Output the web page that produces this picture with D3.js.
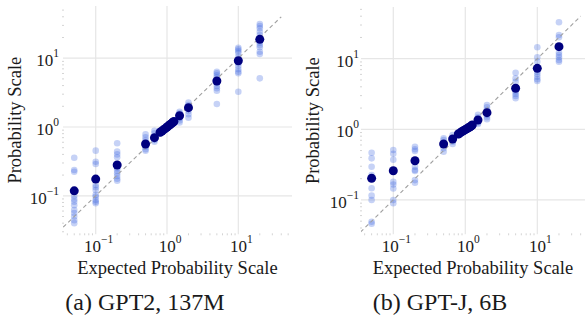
<!DOCTYPE html>
<html><head><meta charset="utf-8">
<script src="https://cdn.jsdelivr.net/npm/d3@7"></script>
<style>body{margin:0;background:#fff}svg{display:block}text{font-family:"Liberation Serif","Times New Roman",serif;fill:#1a1a1a}</style>
</head><body><svg id="c" width="585" height="321"></svg>
<script>
const expected = [0.05,0.1,0.2,0.5,0.667,0.8,0.85,0.9,0.95,1,1.05,1.1,1.15,1.2,1.25,1.5,2,5,10,20];
const tickValues = [0.1,1,10];
const tickExponents = ["−1","0","1"];
const diagonal = [0.035,40];
const captions = ["(a) GPT2, 137M","(b) GPT-J, 6B"];
const xTitle = "Expected Probability Scale";
const yTitle = "Probability Scale";

const gpt2Means = [0.118,0.175,0.28,0.566,0.70,0.84,0.875,0.915,0.955,1.0,1.04,1.08,1.12,1.16,1.2,1.46,1.91,4.66,9.2,18.8];
const gpt2Samples = [
 [0.358,0.237,0.224,0.099,0.089,0.082,0.073,0.062,0.056,0.05,0.044,0.04],
 [0.453,0.313,0.29,0.144,0.133,0.121,0.103,0.097,0.087,0.082,0.078],
 [0.58,0.438,0.40,0.363,0.251,0.232,0.212,0.194,0.177,0.166],
 [0.78,0.71,0.647,0.517,0.474,0.453],
 [0.88,0.81,0.647,0.611],
 [0.88,0.86,0.82,0.8],
 [0.91,0.89,0.86,0.84],
 [0.95,0.93,0.9,0.88],
 [0.99,0.97,0.94,0.92],
 [1.04,1.02,0.98,0.96],
 [1.08,1.06,1.02,1.0],
 [1.12,1.1,1.06,1.04],
 [1.16,1.14,1.1,1.08],
 [1.21,1.18,1.14,1.12],
 [1.25,1.22,1.18,1.15],
 [1.67,1.58,1.34,1.24,1.16],
 [2.26,2.09,1.71,1.53,1.36],
 [6.37,6.03,5.64,5.28,4.32,3.95,3.65,3.37,2.16],
 [14.2,13.5,12.7,12.0,10.5,8.43,7.7,6.9,6.37,6.03,3.26],
 [31.4,29.4,27.2,24.3,21.7,16.8,15.6,14.4,12.4,11.5,5.1]
];

const gptjMeans = [0.202,0.259,0.359,0.619,0.729,0.86,0.89,0.93,0.96,0.99,1.02,1.05,1.08,1.11,1.15,1.355,1.72,3.81,7.31,14.8];
const gptjSamples = [
 [0.466,0.388,0.295,0.225,0.146,0.115,0.1,0.049,0.046],
 [0.51,0.45,0.37,0.18,0.165,0.145,0.1,0.09],
 [0.567,0.521,0.493,0.295,0.265,0.257,0.191,0.175],
 [0.746,0.705,0.538,0.482],
 [0.83,0.667,0.62],
 [0.9,0.88,0.84,0.82],
 [0.93,0.91,0.87,0.85],
 [0.97,0.95,0.91,0.89],
 [1.0,0.98,0.94,0.92],
 [1.03,1.01,0.97,0.95],
 [1.06,1.04,1.0,0.98],
 [1.09,1.07,1.03,1.01],
 [1.12,1.1,1.06,1.04],
 [1.15,1.13,1.09,1.07],
 [1.19,1.17,1.13,1.11],
 [1.6,1.48,1.24,1.19],
 [2.21,2.05,1.88,1.59,1.48,1.39],
 [6.34,5.28,4.72,3.41,3.16,2.96,2.75],
 [14.5,10.5,9.07,6.55,6.07,5.56,5.11,4.83],
 [32.8,21.7,20.1,12.2,11.3,10.5,9.57,9.07]
];

const panels = [
 {means:gpt2Means, samples:gpt2Samples, left:63, right:292, top:6, bottom:234.3,
  xd:[0.03478,56.6], yd:[0.02756,57.4], capX:145, yTitleX:21, labelGap:4},
 {means:gptjMeans, samples:gptjSamples, left:361, right:585, top:7, bottom:234.3,
  xd:[0.0356,45.97], yd:[0.0326,54.0], capX:440, yTitleX:319, labelGap:2}
];

const svg = d3.select("#c");
panels.forEach((p,i)=>{
  const x = d3.scaleLog().domain(p.xd).range([p.left,p.right]);
  const y = d3.scaleLog().domain(p.yd).range([p.bottom,p.top]);
  const g = svg.append("g");
  const cid = "clip"+i;
  g.append("clipPath").attr("id",cid).append("rect")
    .attr("x",p.left).attr("y",p.top).attr("width",p.right-p.left).attr("height",p.bottom-p.top);
  g.selectAll(".gx").data(tickValues).join("line")
    .attr("x1",d=>x(d)).attr("x2",d=>x(d)).attr("y1",p.top).attr("y2",p.bottom)
    .attr("stroke","#e6e6e6").attr("stroke-width",1.2);
  g.selectAll(".gy").data(tickValues).join("line")
    .attr("y1",d=>y(d)).attr("y2",d=>y(d)).attr("x1",p.left).attr("x2",p.right)
    .attr("stroke","#e6e6e6").attr("stroke-width",1.2);
  const minorX = x.ticks().filter(v=>!tickValues.some(t=>Math.abs(t-v)<1e-9) && v>=p.xd[0] && v<=p.xd[1]);
  const minorY = y.ticks().filter(v=>!tickValues.some(t=>Math.abs(t-v)<1e-9) && v>=p.yd[0] && v<=p.yd[1]);
  g.selectAll(".mx").data(minorX).join("line")
    .attr("x1",d=>x(d)).attr("x2",d=>x(d)).attr("y1",p.bottom-1).attr("y2",p.bottom+1)
    .attr("stroke","#d4d4d4").attr("stroke-width",1);
  g.selectAll(".my").data(minorY).join("line")
    .attr("y1",d=>y(d)).attr("y2",d=>y(d)).attr("x1",p.left-1).attr("x2",p.left+1)
    .attr("stroke","#d4d4d4").attr("stroke-width",1);
  const plot = g.append("g").attr("clip-path",`url(#${cid})`);
  const pts = [];
  p.samples.forEach((arr,k)=>arr.forEach(v=>pts.push([expected[k],v])));
  plot.selectAll(".s").data(pts).join("circle")
    .attr("cx",d=>x(d[0])).attr("cy",d=>y(d[1])).attr("r",3.3)
    .attr("fill","royalblue").attr("fill-opacity",0.3);
  plot.append("line")
    .attr("x1",x(diagonal[0])).attr("y1",y(diagonal[0])).attr("x2",x(diagonal[1])).attr("y2",y(diagonal[1]))
    .attr("stroke","#a0a0a0").attr("stroke-width",1.1).attr("stroke-dasharray","4,3");
  plot.selectAll(".m").data(expected.map((e,k)=>[e,p.means[k]])).join("circle")
    .attr("cx",d=>x(d[0])).attr("cy",d=>y(d[1])).attr("r",4.5)
    .attr("fill","#00007f");
  tickValues.forEach((t,k)=>{
    const tx = g.append("text").attr("x",x(t)+3).attr("y",p.bottom+17.5).attr("text-anchor","middle");
    tx.append("tspan").attr("font-size",17).text("10");
    tx.append("tspan").attr("font-size",11.5).attr("dy",-9).text(tickExponents[k]);
    const ty = g.append("text").attr("x",p.left-p.labelGap).attr("y",y(t)+8).attr("text-anchor","end");
    ty.append("tspan").attr("font-size",17).text("10");
    ty.append("tspan").attr("font-size",11.5).attr("dy",-9).text(tickExponents[k]);
  });
  g.append("text").attr("x",(p.left+p.right)/2).attr("y",274.3).attr("text-anchor","middle")
    .attr("font-size",18.5).text(xTitle);
  g.append("text").attr("transform",`translate(${p.yTitleX},${(p.top+p.bottom)/2}) rotate(-90)`)
    .attr("text-anchor","middle").attr("font-size",18.5).text(yTitle);
  g.append("text").attr("x",p.capX).attr("y",310).attr("text-anchor","middle")
    .attr("font-size",24).text(captions[i]);
});
</script></body></html>
